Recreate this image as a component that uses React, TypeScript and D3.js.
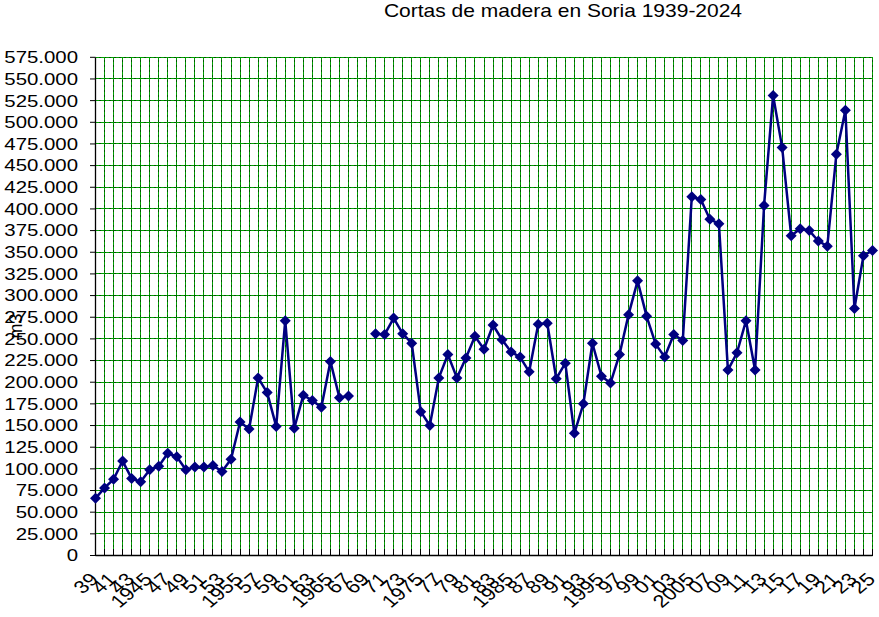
import React from 'react';
import * as d3 from 'd3';

// Cortas de madera (m3) por año; null = sin dato
const years: number[] = d3.range(1939, 2026);
const cortas: (number | null)[] = [
  66000, 78000, 88000, 109000, 89000, 85000, 99000, 103000, 118000, 114000,
  99000, 102000, 102000, 104000, 97000, 111000, 154000, 146000, 205000, 188000,
  149000, 271000, 147000, 185000, 179000, 171000, 224000, 182000, 184000, null,
  null, 256000, 255000, 274000, 256000, 245000, 166000, 150000, 205000, 232000,
  205000, 228000, 253000, 238000, 266000, 249000, 235000, 229000, 212000, 267000,
  268000, 204000, 222000, 141000, 175000, 245000, 207000, 199000, 232000, 278000,
  317000, 276000, 244000, 229000, 255000, 248000, 414000, 411000, 388000, 383000,
  214000, 234000, 271000, 214000, 404000, 531000, 471000, 369000, 377000, 375000,
  363000, 357000, 463000, 514000, 285000, 346000, 352000,
];

const labelYears: number[] = d3.range(1939, 2026, 2);
const xLabels: string[] = [
  '39', '41', '43', '1945', '47', '49', '51', '53', '1955', '57', '59', '61',
  '63', '1965', '67', '69', '71', '73', '1975', '77', '79', '81', '83', '1985',
  '87', '89', '91', '93', '1995', '97', '99', '01', '03', '2005', '07', '09',
  '11', '13', '15', '17', '19', '21', '23', '25',
];
const yTicks: number[] = d3.range(0, 575001, 25000);

const W = 879;
const H = 617;
const SX = 1.2; // horizontal stretch of the text in the original
const FONT = 'Liberation Sans, Arial, sans-serif';

export default function App() {
  const x = d3.scaleLinear().domain([1939, 2025]).range([95.5, 872.5]);
  const y = d3.scaleLinear().domain([0, 575000]).range([555.5, 57.3]);
  const fmt = (v: number) => (v === 0 ? '0' : d3.format(',')(v).replace(/,/g, '.'));
  const px = (v: number) => Math.round(v - 0.5) + 0.5;

  const pts = years.map((yr, i) => ({ yr, v: cortas[i] }));
  const line = d3
    .line<{ yr: number; v: number | null }>()
    .defined(d => d.v !== null)
    .x(d => x(d.yr))
    .y(d => y(d.v as number));

  const diamond = 'M0,-5.5L5.5,0L0,5.5L-5.5,0Z';

  return (
    <svg width={W} height={H} style={{ display: 'block', background: '#fff' }} fontFamily={FONT}>
      <style>{'body{margin:0}'}</style>

      {/* title */}
      <text
        transform={`translate(563,17) scale(${SX},1)`}
        textAnchor="middle"
        fontSize={17.5}
        fill="#000"
      >
        Cortas de madera en Soria 1939-2024
      </text>

      {/* grid */}
      <g shapeRendering="crispEdges">
        {yTicks.slice(1).map(t => (
          <g key={'h' + t}>
            <line x1={95.5} x2={872.5} y1={px(y(t))} y2={px(y(t))} stroke="#005500" strokeWidth={1} />
            <line x1={95.5} x2={872.5} y1={px(y(t))} y2={px(y(t))} stroke="#00a000" strokeWidth={1} strokeDasharray="3 2" />
          </g>
        ))}
        {years.slice(1).map(yr => (
          <g key={'v' + yr}>
            <line x1={px(x(yr))} x2={px(x(yr))} y1={57.3} y2={555.5} stroke="#005500" strokeWidth={1} />
            <line x1={px(x(yr))} x2={px(x(yr))} y1={57.3} y2={555.5} stroke="#00a000" strokeWidth={1} strokeDasharray="3 2" />
          </g>
        ))}
      </g>

      {/* axes */}
      <line x1={95.5} x2={95.5} y1={57.3} y2={555.5} stroke="#000" strokeWidth={1.3} />
      <line x1={95.5} x2={872.5} y1={555.5} y2={555.5} stroke="#000" strokeWidth={1.3} />
      {yTicks.map(t => (
        <g key={'yt' + t}>
          <line x1={90} x2={95.5} y1={y(t)} y2={y(t)} stroke="#000" strokeWidth={1} />
          <text
            transform={`translate(78,${y(t)}) scale(${SX},1)`}
            textAnchor="end"
            dominantBaseline="central"
            fontSize={17}
            fill="#000"
          >
            {fmt(t)}
          </text>
        </g>
      ))}
      {years.map(yr => (
        <line key={'xt' + yr} x1={px(x(yr))} x2={px(x(yr))} y1={549} y2={555.5} stroke="#000" strokeWidth={1} shapeRendering="crispEdges" />
      ))}
      {labelYears.map((yr, i) => (
        <text
          key={'xl' + yr}
          transform={`translate(${x(yr) - 1.5},${576}) scale(${SX},1) rotate(-45)`}
          textAnchor="end"
          dominantBaseline="central"
          fontSize={18}
          fill="#000"
        >
          {xLabels[i]}
        </text>
      ))}

      {/* y axis title (overlapped in the original) */}
      <text
        transform={`translate(16,326) rotate(-90)`}
        textAnchor="middle"
        dominantBaseline="central"
        fontSize={18}
        fill="#000"
      >
        m3
      </text>

      {/* series */}
      <path d={line(pts) || ''} fill="none" stroke="#000080" strokeWidth={2.5} strokeLinejoin="round" />
      {pts
        .filter(d => d.v !== null)
        .map(d => (
          <path key={'m' + d.yr} d={diamond} transform={`translate(${x(d.yr)},${y(d.v as number)})`} fill="#000080" />
        ))}
    </svg>
  );
}
